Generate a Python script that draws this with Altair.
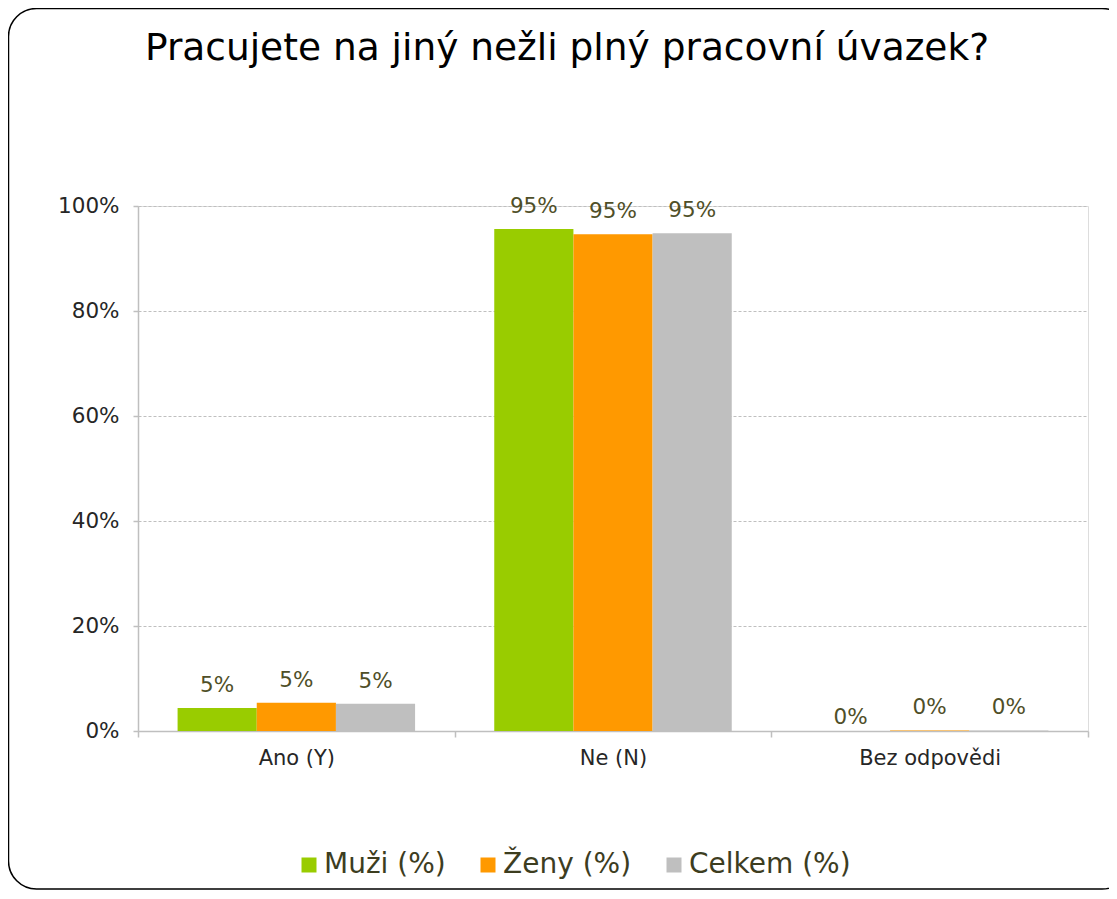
import altair as alt
import pandas as pd

categories = ["Ano (Y)", "Ne (N)", "Bez odpovědi"]
series = ["Muži (%)", "Ženy (%)", "Celkem (%)"]
colors = ["#99CC00", "#FF9900", "#BFBFBF"]

muzi = [4.4, 95.6, 0.0]
zeny = [5.4, 94.6, 0.1]
celkem = [5.2, 94.8, 0.1]

muzi_labels = ["5%", "95%", "0%"]
zeny_labels = ["5%", "95%", "0%"]
celkem_labels = ["5%", "95%", "0%"]

y_ticks = [0, 20, 40, 60, 80, 100]

rows = []
for s, vals, labs in zip(series, [muzi, zeny, celkem], [muzi_labels, zeny_labels, celkem_labels]):
    for c, v, l in zip(categories, vals, labs):
        rows.append({"kategorie": c, "skupina": s, "hodnota": v, "popisek": l})
df = pd.DataFrame(rows)

FONT = "DejaVu Sans"

x_enc = alt.X(
    "kategorie:N",
    sort=categories,
    scale=alt.Scale(paddingInner=0, paddingOuter=0),
    axis=alt.Axis(
        title=None,
        labelAngle=0,
        tickBand="extent",
        tickSize=6,
        labelPadding=10,
        labelFontSize=21,
        labelColor="#262626",
        labelFont=FONT,
        domainColor="#BFBFBF",
        domainWidth=1.5,
        tickColor="#BFBFBF",
        tickWidth=1.5,
        grid=False,
    ),
)
xoff_enc = alt.XOffset(
    "skupina:N",
    sort=series,
    scale=alt.Scale(paddingInner=0, paddingOuter=0.5),
)
y_enc = alt.Y(
    "hodnota:Q",
    scale=alt.Scale(domain=[0, 100]),
    axis=alt.Axis(
        title=None,
        values=y_ticks,
        labelExpr="datum.value + '%'",
        tickSize=5,
        labelPadding=14,
        labelFontSize=21.5,
        labelColor="#262626",
        labelFont=FONT,
        domainColor="#BFBFBF",
        domainWidth=1.5,
        tickColor="#BFBFBF",
        tickWidth=1.5,
        grid=True,
        gridColor="#BFBFBF",
        gridDash=[3, 2],
        gridWidth=1,
    ),
)
color_enc = alt.Color(
    "skupina:N",
    sort=series,
    scale=alt.Scale(domain=series, range=colors),
    legend=alt.Legend(
        title=None,
        orient="none",
        legendX=157,
        legendY=645,
        direction="horizontal",
        symbolType="square",
        symbolSize=225,
        symbolStrokeWidth=0,
        labelFontSize=28,
        labelFont=FONT,
        labelColor="#3D3D1F",
        labelOffset=1,
        labelLimit=400,
        columnPadding=28,
    ),
)

base = alt.Chart(df)

bars = base.mark_bar().encode(x=x_enc, xOffset=xoff_enc, y=y_enc, color=color_enc)

text_common = dict(font=FONT, fontSize=21.5, color="#4F4F28", baseline="alphabetic", align="center")
labels_pos = base.transform_filter("datum.hodnota > 0").mark_text(dy=-16, **text_common).encode(
    x=alt.X("kategorie:N", sort=categories), xOffset=alt.XOffset("skupina:N", sort=series),
    y="hodnota:Q", text="popisek:N"
)
labels_zero = base.transform_filter("datum.hodnota <= 0").mark_text(dy=-7, **text_common).encode(
    x=alt.X("kategorie:N", sort=categories), xOffset=alt.XOffset("skupina:N", sort=series),
    y="hodnota:Q", text="popisek:N"
)

frame = alt.Chart(alt.Data(values=[{}])).mark_rect(
    fill="transparent", stroke="#000000", strokeWidth=1.5, cornerRadius=28
).encode(
    x=alt.value(-129.5), x2=alt.value(992), y=alt.value(-197.5), y2=alt.value(683)
)

chart = alt.layer(frame, bars, labels_pos, labels_zero).properties(
    width=950,
    height=525,
    padding={"left": 130, "top": 198, "right": 21, "bottom": 160},
    autosize=alt.AutoSizeParams(type="none"),
    title=alt.TitleParams(
        "Pracujete na jiný nežli plný pracovní úvazek?",
        font=FONT,
        fontSize=37.5,
        fontWeight="normal",
        color="#000000",
        anchor="middle",
        dx=-46,
        baseline="alphabetic",
        offset=-90,
    ),
).configure_view(stroke=None).configure(background="white")

chart.save("out.html", embed_options={"renderer": "svg", "actions": False})
